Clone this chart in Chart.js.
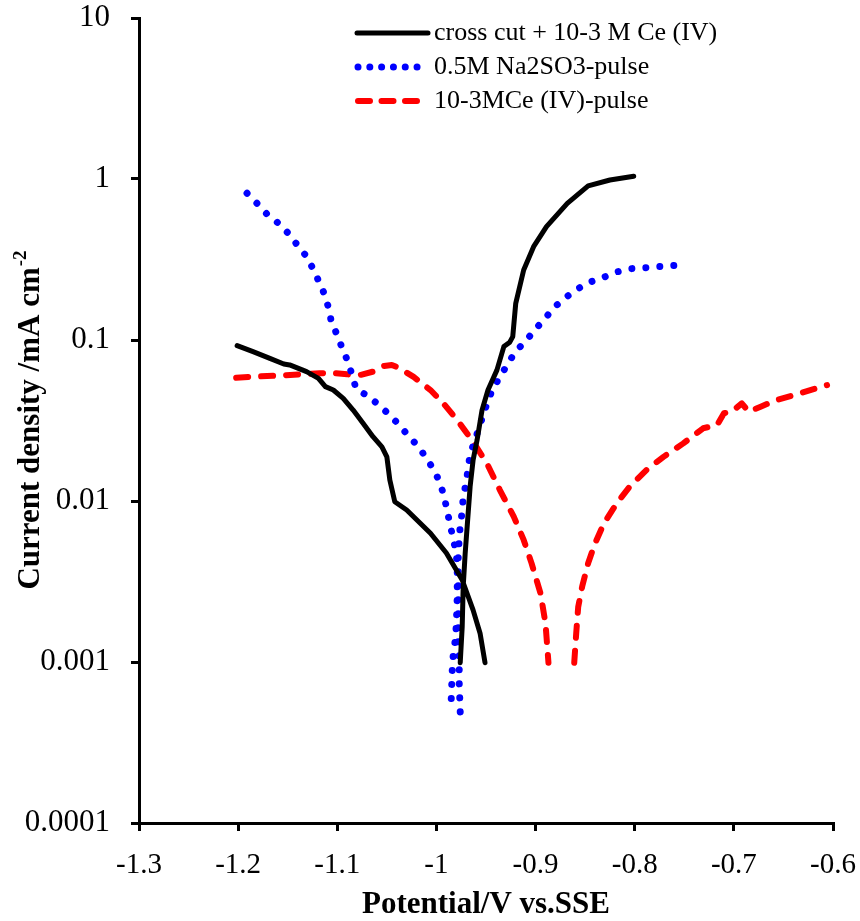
<!DOCTYPE html>
<html>
<head>
<meta charset="utf-8">
<script src="https://cdn.jsdelivr.net/npm/chart.js@4.4.1/dist/chart.umd.min.js"></script>
<style>
  html, body { margin: 0; padding: 0; background: #fff; }
  #c { display: block; }
</style>
</head>
<body>
<canvas id="c" width="860" height="921"></canvas>
<script>
// ---- Data ----
const seriesLabels = ['cross cut + 10-3 M Ce (IV)', '0.5M Na2SO3-pulse', '10-3MCe (IV)-pulse'];

// cross cut + 10-3 M Ce (IV)  (null = break between cathodic and anodic branches)
const blackV = [-1.201, -1.185, -1.168, -1.154, -1.148, -1.131, -1.119, -1.112, -1.104, -1.094, -1.084, -1.074, -1.064, -1.055, -1.050, -1.047, -1.042, -1.030, -1.006, -0.990, -0.974, -0.963, -0.956, -0.951,
  null,
  -0.976, -0.974, -0.973, -0.971, -0.968, -0.966, -0.963, -0.959, -0.954, -0.948, -0.939, -0.932, -0.926, -0.923, -0.920, -0.912, -0.902, -0.889, -0.868, -0.847, -0.825, -0.801];
const blackI = [0.0922, 0.0846, 0.0769, 0.0709, 0.0700, 0.0636, 0.0578, 0.0513, 0.0489, 0.0434, 0.0367, 0.0304, 0.0251, 0.0217, 0.0188, 0.0135, 0.0099, 0.0088, 0.0063, 0.00475, 0.00323, 0.0021, 0.00151, 0.00099,
  null,
  0.00099, 0.00166, 0.00294, 0.00473, 0.0084, 0.0123, 0.018, 0.0239, 0.0367, 0.0489, 0.065, 0.091, 0.097, 0.105, 0.169, 0.272, 0.38, 0.506, 0.706, 0.906, 0.986, 1.04];

// 0.5M Na2SO3-pulse
const blueV = [-1.191, -1.181, -1.171, -1.160, -1.150, -1.141, -1.132, -1.125, -1.119, -1.113, -1.109, -1.106, -1.100, -1.095, -1.090, -1.085, -1.081, -1.069, -1.058, -1.047, -1.037, -1.028, -1.018, -1.010, -1.002, -0.996, -0.992, -0.989, -0.986, -0.983, -0.980, -0.979, -0.979, -0.980, -0.981, -0.983, -0.984, -0.985, -0.986,
  null,
  -0.976, -0.977, -0.977, -0.978, -0.978, -0.978, -0.977, -0.976, -0.974, -0.973, -0.970, -0.968, -0.966, -0.961, -0.957, -0.952, -0.948, -0.942, -0.934, -0.927, -0.919, -0.909, -0.900, -0.890, -0.881, -0.870, -0.858, -0.846, -0.832, -0.819, -0.805, -0.790, -0.776, -0.761, -0.747];
const blueI = [0.815, 0.706, 0.606, 0.535, 0.464, 0.394, 0.336, 0.281, 0.234, 0.193, 0.160, 0.130, 0.107, 0.0888, 0.0751, 0.0606, 0.0496, 0.0449, 0.0394, 0.0342, 0.0294, 0.0253, 0.0217, 0.0184, 0.0154, 0.0128, 0.0105, 0.0086, 0.00703, 0.00578, 0.00473, 0.00382, 0.00255, 0.00168, 0.00137, 0.00112, 0.00091, 0.0006, 0.00049,
  null,
  0.00049, 0.00074, 0.00112, 0.00137, 0.00207, 0.00469, 0.00578, 0.00703, 0.0086, 0.0106, 0.013, 0.016, 0.0196, 0.0239, 0.0287, 0.0351, 0.0424, 0.0513, 0.0615, 0.0733, 0.0863, 0.1, 0.117, 0.137, 0.160, 0.183, 0.207, 0.228, 0.244, 0.264, 0.277, 0.281, 0.286, 0.290, 0.295];

// 10-3MCe (IV)-pulse
const redV = [-1.202, -1.185, -1.161, -1.138, -1.118, -1.106, -1.090, -1.077, -1.064, -1.053, -1.045, -1.037, -1.023, -1.006, -0.993, -0.979, -0.968, -0.961, -0.949, -0.936, -0.922, -0.912, -0.904, -0.895, -0.890, -0.887,
  null,
  -0.861, -0.859, -0.857, -0.853, -0.847, -0.840, -0.831, -0.818, -0.805, -0.788, -0.771, -0.751, -0.731, -0.717, -0.710, -0.702, -0.692, -0.685, -0.673, -0.657, -0.633, -0.606];
const redI = [0.0583, 0.0592, 0.060, 0.0612, 0.0621, 0.0626, 0.0612, 0.0606, 0.0636, 0.069, 0.070, 0.0667, 0.059, 0.0489, 0.0404, 0.0318, 0.0257, 0.0223, 0.0171, 0.0117, 0.0080, 0.00573, 0.0041, 0.00267, 0.00174, 0.00099,
  null,
  0.00099, 0.00151, 0.0022, 0.00294, 0.0041, 0.00546, 0.00728, 0.0097, 0.0123, 0.0156, 0.0188, 0.0228, 0.0283, 0.0296, 0.0351, 0.0359, 0.0404, 0.0359, 0.0385, 0.0424, 0.0467, 0.0525];

// Tick values and labels
const xTicks = [-1.3, -1.2, -1.1, -1.0, -0.9, -0.8, -0.7, -0.6];
const xTickLabels = ['-1.3', '-1.2', '-1.1', '-1', '-0.9', '-0.8', '-0.7', '-0.6'];
const yTicks = [0.0001, 0.001, 0.01, 0.1, 1, 10];
const yTickLabels = ['0.0001', '0.001', '0.01', '0.1', '1', '10'];

const xTitle = 'Potential/V vs.SSE';
const yTitleMain = 'Current density /mA cm';
const yTitleSup = '-2';

// ---- Build ----
function toPoints(vs, is) {
  return vs.map((v, k) => (v === null ? { x: -0.96, y: null } : { x: v, y: is[k] }));
}

const SERIF = "'Liberation Serif', 'Times New Roman', serif";
Chart.defaults.font.family = SERIF;
Chart.defaults.color = '#000';

const legendPlugin = {
  id: 'customLegend',
  afterDraw(chart) {
    const ctx = chart.ctx;
    const rows = [
      { y: 33, x0: 357, x1: 428 },
      { y: 67, x0: 358, x1: 418 },
      { y: 101, x0: 358, x1: 418 }
    ];
    chart.data.datasets.forEach((ds, i) => {
      const r = rows[i];
      ctx.save();
      ctx.strokeStyle = ds.borderColor;
      ctx.lineWidth = ds.borderWidth;
      ctx.lineCap = 'round';
      ctx.setLineDash(ds.legendDash || []);
      ctx.beginPath();
      ctx.moveTo(r.x0, r.y);
      ctx.lineTo(r.x1, r.y);
      ctx.stroke();
      ctx.setLineDash([]);
      ctx.fillStyle = '#000';
      ctx.font = '26px ' + SERIF;
      ctx.textBaseline = 'middle';
      ctx.textAlign = 'left';
      ctx.fillText(ds.label, 434, r.y);
      ctx.restore();
    });
  }
};

const yTitlePlugin = {
  id: 'yTitle',
  afterDraw(chart) {
    const ctx = chart.ctx;
    const area = chart.chartArea;
    const cy = (area.top + area.bottom) / 2;
    ctx.save();
    ctx.translate(39, cy);
    ctx.rotate(-Math.PI / 2);
    ctx.fillStyle = '#000';
    ctx.textBaseline = 'alphabetic';
    ctx.textAlign = 'left';
    const mainFont = 'bold 31px ' + SERIF;
    const supFont = 'bold 19px ' + SERIF;
    ctx.font = mainFont;
    const w1 = ctx.measureText(yTitleMain).width;
    ctx.font = supFont;
    const w2 = ctx.measureText(yTitleSup).width;
    const start = -(w1 + w2) / 2;
    ctx.font = mainFont;
    ctx.fillText(yTitleMain, start, 0);
    ctx.font = supFont;
    ctx.fillText(yTitleSup, start + w1 + 1, -13);
    ctx.restore();
  }
};

const common = { pointRadius: 0, pointHoverRadius: 0, fill: false, tension: 0, spanGaps: false, borderCapStyle: 'round', borderJoinStyle: 'round' };

new Chart(document.getElementById('c'), {
  type: 'line',
  data: {
    datasets: [
      Object.assign({}, common, { label: seriesLabels[0], data: toPoints(blackV, blackI), borderColor: '#000000', borderWidth: 5, borderDash: [], legendDash: [] }),
      Object.assign({}, common, { label: seriesLabels[1], data: toPoints(blueV, blueI), borderColor: '#0000FF', borderWidth: 7, borderDash: [0.01, 14], legendDash: [0.01, 11.8] }),
      Object.assign({}, common, { label: seriesLabels[2], data: toPoints(redV, redI), borderColor: '#FF0000', borderWidth: 6, borderDash: [12, 13], legendDash: [12, 11.5] })
    ]
  },
  options: {
    responsive: false,
    animation: false,
    devicePixelRatio: 1,
    layout: { padding: { top: 18, right: 27, left: 0, bottom: 0 } },
    plugins: { legend: { display: false }, tooltip: { enabled: false } },
    scales: {
      x: {
        type: 'linear',
        min: -1.3,
        max: -0.6,
        afterBuildTicks: (s) => { s.ticks = xTicks.map(v => ({ value: v })); },
        afterFit: (s) => { s.height = 98; s.paddingLeft = 0; s.paddingRight = 0; },
        ticks: {
          callback: (v, i) => xTickLabels[i],
          font: { size: 29, family: SERIF },
          color: '#000',
          padding: 17,
          maxRotation: 0,
          autoSkip: false
        },
        grid: { display: true, drawOnChartArea: false, drawTicks: true, tickLength: 8, lineWidth: 3, color: '#000' },
        border: { display: true, color: '#000', width: 3 },
        title: { display: true, text: xTitle, font: { size: 31, weight: 'bold', family: SERIF }, color: '#000', padding: { top: 0, bottom: -3 } }
      },
      y: {
        type: 'logarithmic',
        min: 0.0001,
        max: 10,
        afterBuildTicks: (s) => { s.ticks = yTicks.map(v => ({ value: v })); },
        afterFit: (s) => { s.width = 139; s.paddingTop = 0; s.paddingBottom = 0; },
        ticks: {
          callback: (v, i) => yTickLabels[i],
          font: { size: 31, family: SERIF },
          color: '#000',
          padding: 21,
          autoSkip: false
        },
        grid: { display: true, drawOnChartArea: false, drawTicks: true, tickLength: 8, lineWidth: 3, color: '#000' },
        border: { display: true, color: '#000', width: 3 }
      }
    }
  },
  plugins: [legendPlugin, yTitlePlugin]
});
</script>
</body>
</html>
